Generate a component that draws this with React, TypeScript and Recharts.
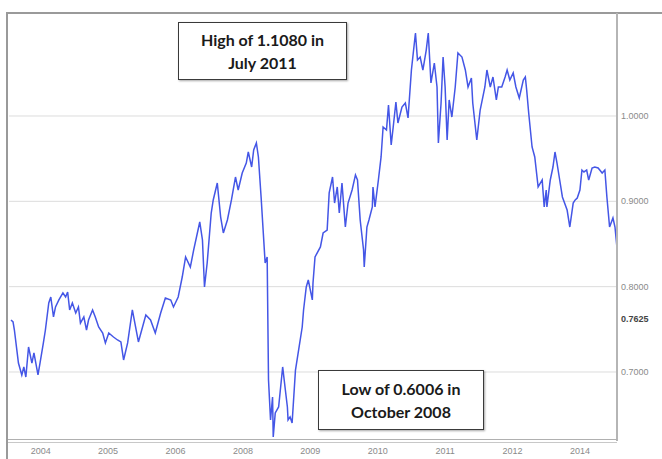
import React from "react";
import { LineChart, Line, XAxis, YAxis, ReferenceLine } from "recharts";

// Position along the time axis, in units of label slots (0 = first year label)
const timePos: number[] = [
  -0.44, -0.41, -0.39, -0.33, -0.28, -0.25, -0.22, -0.18, -0.13, -0.1, -0.04, -0.01,
  0.04, 0.07, 0.12, 0.15, 0.19, 0.22, 0.27, 0.33, 0.37, 0.4, 0.43, 0.47, 0.52, 0.56,
  0.59, 0.64, 0.68, 0.71, 0.77, 0.81, 0.86, 0.92, 0.96, 1.01, 1.08, 1.14, 1.19, 1.23,
  1.29, 1.36, 1.45, 1.56, 1.63, 1.7, 1.78, 1.85, 1.93, 1.97, 2.04, 2.1, 2.15, 2.22,
  2.27, 2.36, 2.4, 2.43, 2.47, 2.53, 2.56, 2.62, 2.67, 2.71, 2.77, 2.83, 2.89, 2.93,
  2.99, 3.05, 3.08, 3.13, 3.16, 3.2, 3.23, 3.27, 3.3, 3.33, 3.36, 3.38, 3.41, 3.44,
  3.45, 3.48, 3.53, 3.59, 3.63, 3.66, 3.67, 3.7, 3.73, 3.78, 3.82, 3.88, 3.9, 3.94,
  3.97, 4.03, 4.04, 4.07, 4.15, 4.19, 4.25, 4.28, 4.33, 4.36, 4.4, 4.43, 4.47, 4.52,
  4.56, 4.62, 4.67, 4.7, 4.74, 4.79, 4.8, 4.84, 4.87, 4.92, 4.93, 4.96, 5.01, 5.05,
  5.08, 5.13, 5.16, 5.2, 5.23, 5.27, 5.3, 5.36, 5.41, 5.45, 5.5, 5.56, 5.59, 5.63,
  5.67, 5.72, 5.75, 5.79, 5.84, 5.88, 5.9, 5.94, 5.97, 6.0, 6.03, 6.06, 6.1, 6.15,
  6.19, 6.25, 6.3, 6.34, 6.39, 6.41, 6.47, 6.52, 6.56, 6.59, 6.62, 6.67, 6.71, 6.76,
  6.79, 6.84, 6.89, 6.92, 6.96, 7.01, 7.05, 7.1, 7.16, 7.19, 7.21, 7.24, 7.29, 7.33,
  7.38, 7.44, 7.47, 7.5, 7.51, 7.56, 7.6, 7.63, 7.66, 7.7, 7.74, 7.81, 7.85, 7.9,
  7.93, 7.96, 8.0, 8.03, 8.06, 8.1, 8.13, 8.18, 8.22, 8.27, 8.33, 8.37, 8.4, 8.44,
  8.49, 8.52, 8.55,
];

// AUD/USD rate
const rate: number[] = [
  0.7609, 0.7586, 0.7492, 0.7105, 0.6965, 0.7059, 0.6941, 0.7293, 0.7105, 0.7223, 0.6965, 0.7105,
  0.734, 0.7492, 0.7809, 0.7879, 0.7645, 0.7762, 0.7844, 0.7926, 0.7879, 0.7937, 0.7727, 0.7809, 0.7691, 0.7762,
  0.7574, 0.7645, 0.7492, 0.7609, 0.7727, 0.7645, 0.7527, 0.7457, 0.734, 0.7457, 0.741, 0.7375, 0.7352, 0.7141,
  0.734, 0.7727, 0.7352, 0.7668, 0.7609, 0.7457, 0.7691, 0.7867, 0.7844, 0.7762, 0.7879, 0.8113, 0.8348, 0.823,
  0.843, 0.8758, 0.8547, 0.7996, 0.8277, 0.8863, 0.9016, 0.9215, 0.8816, 0.8629, 0.8781, 0.9016, 0.9285, 0.9133,
  0.9332, 0.9449, 0.9578, 0.9402, 0.9602, 0.9684, 0.952, 0.9051, 0.8664, 0.8277, 0.8348, 0.6906, 0.6437, 0.6707,
  0.6238, 0.652, 0.659, 0.7059, 0.6789, 0.659, 0.6437, 0.6473, 0.6402, 0.7023, 0.7223, 0.7527, 0.7727, 0.7996,
  0.8078, 0.7844, 0.8043, 0.8348, 0.8465, 0.8629, 0.8664, 0.9098, 0.9285, 0.898, 0.9168, 0.8863, 0.9215, 0.8699,
  0.898, 0.9133, 0.9309, 0.925, 0.8781, 0.843, 0.823, 0.8699, 0.8781, 0.8934, 0.9168, 0.8934, 0.925, 0.952,
  0.9871, 0.9836, 1.0129, 0.966, 0.9871, 1.0164, 0.9918, 1.0105, 1.0152, 0.9977, 1.0539, 1.0973, 1.0656, 1.0691,
  1.0539, 1.0773, 1.0973, 1.0387, 1.0621, 1.034, 0.9684, 1.0152, 1.0691, 1.034, 0.9719, 1.0188, 0.9988, 1.034,
  1.0738, 1.0691, 1.0539, 1.034, 1.0445, 1.0152, 0.9719, 1.007, 1.0223, 1.034, 1.0539, 1.034, 1.0457, 1.0188,
  1.034, 1.034, 1.0457, 1.0539, 1.0422, 1.0504, 1.034, 1.0211, 1.0422, 1.0457, 1.0305, 1.0035, 0.9637, 0.952,
  0.9168, 0.925, 0.8934, 0.9133, 0.8934, 0.925, 0.9402, 0.9578, 0.9449, 0.925, 0.9051, 0.8898, 0.8699, 0.898,
  0.9016, 0.9039, 0.9133, 0.9367, 0.9344, 0.9367, 0.925, 0.9391, 0.9402, 0.9391, 0.9332, 0.9367, 0.9051, 0.8699,
  0.8805, 0.8699, 0.8453,
];

const yearLabels: string[] = ["2004", "2005", "2006", "2008", "2009", "2010", "2011", "2012", "2014"];
const yTicks: number[] = [0.7, 0.7625, 0.8, 0.9, 1.0];
const gridValues: number[] = [0.7, 0.8, 0.9, 1.0];
const lastValueTick = 0.7625;

const highNote: string[] = ["High of 1.1080 in", "July 2011"];
const lowNote: string[] = ["Low of 0.6006 in", "October 2008"];

const rows = timePos.map((t, i) => ({ t, v: rate[i] }));

const YTick = (props: any) => {
  const { x, y, payload } = props;
  const isLast = Math.abs(payload.value - lastValueTick) < 1e-6;
  return (
    <text
      x={x}
      y={y}
      dy={3}
      textAnchor="start"
      fontSize={9}
      fontFamily="Liberation Sans, Arial, sans-serif"
      fill={isLast ? "#444" : "#8a8a8a"}
      fontWeight={isLast ? 700 : 400}
    >
      {payload.value.toFixed(4)}
    </text>
  );
};

const noteStyle = (left: number, top: number, width: number, height: number): React.CSSProperties => ({
  position: "absolute",
  left,
  top,
  width,
  height,
  boxSizing: "border-box",
  border: "1.5px solid #3a3a3a",
  boxShadow: "1px 1px 2px rgba(0,0,0,0.35)",
  background: "#fff",
  display: "flex",
  flexDirection: "column",
  alignItems: "center",
  justifyContent: "center",
  fontFamily: "Lato, 'Open Sans', sans-serif",
  fontWeight: 700,
  fontSize: 16,
  lineHeight: "23px",
  color: "#1a1a1a",
});

export default function App() {
  return (
    <div style={{ position: "absolute", left: 0, top: 0, width: 662, height: 459, background: "#fff", overflow: "hidden" }}>
      <LineChart width={662} height={459} data={rows} margin={{ top: 13, right: 0, bottom: 0, left: 9 }}>
        <XAxis
          type="number"
          dataKey="t"
          domain={[-0.47, 8.55]}
          ticks={[0, 1, 2, 3, 4, 5, 6, 7, 8]}
          tickFormatter={(v: number) => yearLabels[v]}
          interval={0}
          allowDataOverflow
          axisLine={false}
          tickLine={false}
          height={19}
          tick={{ fontSize: 9, fill: "#8a8a8a", fontFamily: "Liberation Sans, Arial, sans-serif" }}
        />
        <YAxis
          orientation="right"
          domain={[0.6203, 1.1207]}
          ticks={yTicks}
          interval={0}
          allowDataOverflow
          axisLine={false}
          tickLine={false}
          tickSize={2}
          tickMargin={2}
          width={45}
          tick={<YTick />}
        />
        {gridValues.map((g) => (
          <ReferenceLine key={g} y={g} stroke="#dcdcdc" strokeWidth={1} />
        ))}
        <Line
          type="linear"
          dataKey="v"
          stroke="#4456e6"
          strokeWidth={1.5}
          dot={false}
          isAnimationActive={false}
        />
      </LineChart>
      {/* frame */}
      <div style={{ position: "absolute", left: 6, top: 12, width: 656, height: 2, background: "#9a9a9a" }} />
      <div style={{ position: "absolute", left: 6, top: 12, width: 2, height: 447, background: "#9a9a9a" }} />
      <div style={{ position: "absolute", left: 616, top: 13, width: 1.5, height: 428, background: "#b5b5b5" }} />
      <div style={{ position: "absolute", left: 8, top: 439, width: 609, height: 1, background: "#b0b0b0" }} />
      <div style={{ position: "absolute", left: 8, top: 442, width: 609, height: 1, background: "#c8c8c8" }} />
      {/* annotations */}
      <div style={noteStyle(178, 22, 169, 58)}>
        {highNote.map((s) => (
          <div key={s}>{s}</div>
        ))}
      </div>
      <div style={noteStyle(318, 370, 166, 60)}>
        {lowNote.map((s) => (
          <div key={s}>{s}</div>
        ))}
      </div>
    </div>
  );
}
